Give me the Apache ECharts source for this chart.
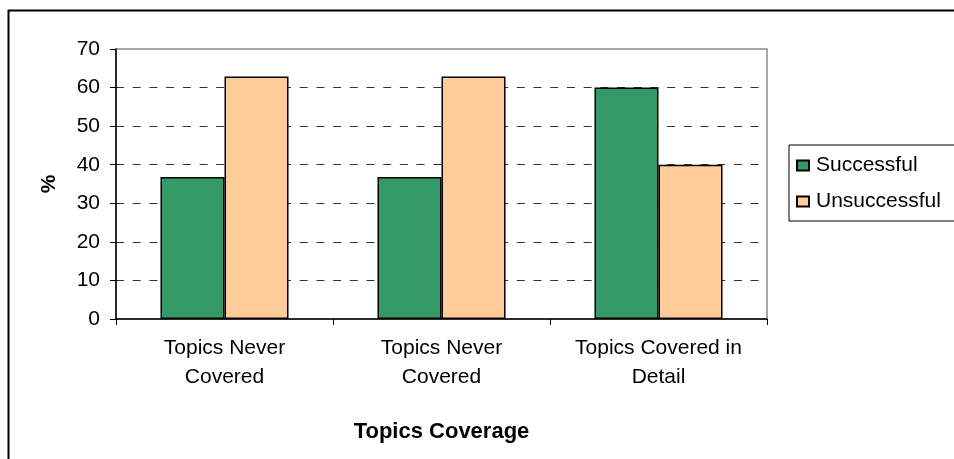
<!DOCTYPE html>
<html>
<head>
<meta charset="utf-8">
<script src="https://cdn.jsdelivr.net/npm/echarts@6/dist/echarts.min.js"></script>
<style>
  html, body { margin: 0; padding: 0; background: #fff; }
  #chart { width: 954px; height: 459px; }
</style>
</head>
<body>
<div id="chart"></div>
<script>
  const categories = ['Topics Never\nCovered', 'Topics Never\nCovered', 'Topics Covered in\nDetail'];
  const successful = [36.8, 36.8, 60];
  const unsuccessful = [62.9, 62.9, 40];

  const font = "'Liberation Sans', Arial, sans-serif";
  const chart = echarts.init(document.getElementById('chart'));

  const option = {
    backgroundColor: '#fff',
    animation: false,
    textStyle: { fontFamily: font, color: '#000' },
    graphic: [{
      type: 'rect',
      left: 6,
      top: 8,
      shape: { width: 1000, height: 500 },
      style: { fill: 'none', stroke: '#000', lineWidth: 2 },
      silent: true
    }],
    grid: {
      left: 116, right: 187, top: 49, bottom: 140,
      show: true, borderColor: '#8c8c8c', borderWidth: 1.5
    },
    legend: {
      orient: 'vertical',
      left: 789,
      top: 145,
      padding: [10, 30, 9, 7],
      itemGap: 15,
      itemWidth: 12,
      itemHeight: 10,
      borderColor: '#000',
      borderWidth: 1,
      icon: 'rect',
      textStyle: { fontSize: 21, color: '#000', fontFamily: font, padding: [0, 0, 0, 2] },
      data: ['Successful', 'Unsuccessful']
    },
    xAxis: {
      type: 'category',
      data: categories,
      name: 'Topics Coverage',
      nameLocation: 'middle',
      nameGap: 102,
      nameTextStyle: { fontSize: 22, fontWeight: 'bold', color: '#000', fontFamily: font },
      axisLine: { lineStyle: { color: '#000', width: 1.5 } },
      axisTick: { show: true, length: 6, lineStyle: { color: '#000' } },
      axisLabel: { fontSize: 21, lineHeight: 29, margin: 15, color: '#000', fontFamily: font }
    },
    yAxis: {
      type: 'value',
      min: 0,
      max: 70,
      interval: 10,
      name: '%',
      nameLocation: 'middle',
      nameGap: 56,
      nameTextStyle: { fontSize: 21, fontWeight: 'bold', color: '#000', fontFamily: font },
      axisLine: { show: true, lineStyle: { color: '#000', width: 1.5 } },
      axisTick: { show: true, length: 6, lineStyle: { color: '#000' } },
      axisLabel: { fontSize: 21, margin: 16, color: '#000', fontFamily: font },
      splitLine: {
        show: true,
        showMinLine: false,
        showMaxLine: false,
        lineStyle: { color: '#333', type: [8, 8.7], width: 1 }
      }
    },
    series: [
      {
        name: 'Successful',
        type: 'bar',
        data: successful,
        barGap: '0%',
        barCategoryGap: '41%',
        itemStyle: { color: '#339966', borderColor: '#000', borderWidth: 1.5 }
      },
      {
        name: 'Unsuccessful',
        type: 'bar',
        data: unsuccessful,
        itemStyle: { color: '#ffcc99', borderColor: '#000', borderWidth: 1.5 }
      }
    ]
  };

  chart.setOption(option);
  window.addEventListener('resize', function () {
    chart.resize();
  });
</script>
</body>
</html>
